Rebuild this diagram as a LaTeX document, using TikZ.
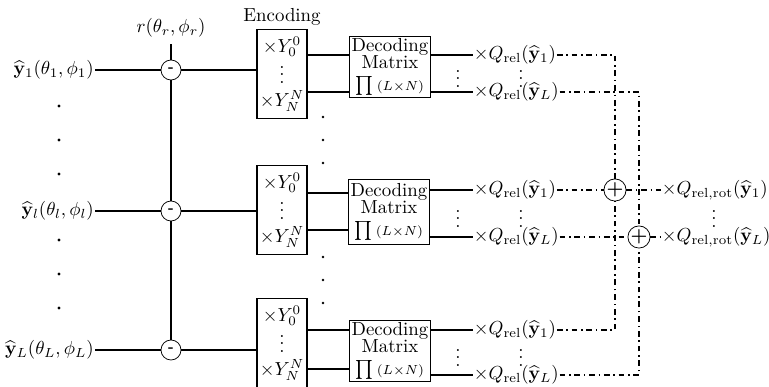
\documentclass[tikz,border=0pt]{standalone}
\usepackage{amsmath,amsfonts,amssymb}
\usepackage{tikz}
\usetikzlibrary{positioning}

\tikzset{
  encbox/.style={draw,thick,minimum width=26.5pt,minimum height=47pt,align=center,inner sep=0.5pt},
  decbox/.style={draw,thick,minimum width=43pt,minimum height=32.3pt,align=center,inner sep=0.3pt},
  minusnode/.style={draw,circle,minimum size=10.6pt,inner sep=0pt,font=\bfseries\scriptsize},
  plusnode/.style={draw,circle,minimum size=10.6pt,inner sep=0pt,font=\bfseries},
  qlab/.style={anchor=west,inner sep=0.3pt},
  dd/.style={thick,dashdotted}
}

\begin{document}
\begin{tikzpicture}[x=0.53pt,y=-0.53pt]
\useasboundingbox (0,0) rectangle (769,387);
% inputs and reference
\node[anchor=east,inner sep=0.5pt] (y1) at (95,70) {$\widehat{\mathbf{y}}_1(\theta_1,\phi_1)$};
\node[anchor=east,inner sep=0.5pt] (yl) at (95,211) {$\widehat{\mathbf{y}}_l(\theta_l,\phi_l)$};
\node[anchor=east,inner sep=0.5pt] (yL) at (95,350) {$\widehat{\mathbf{y}}_L(\theta_L,\phi_L)$};
\node (rlab) at (171,28) {$r(\theta_r,\phi_r)$};
\node[minusnode] (m1) at (171,70) {-};
\node[minusnode] (m2) at (171,211) {-};
\node[minusnode] (m3) at (171,350) {-};
\foreach \y in {106,140,174,240,274,308} \fill (59,\y) circle (0.8pt);
% encoding
\node (enctitle) at (282,17) {Encoding};
\node[encbox] (enc1) at (282,74) {$\times Y_0^0$\\[-2pt]$\vdots$\\$\times Y_N^N$};
\node[encbox] (enc2) at (282,210) {$\times Y_0^0$\\[-2pt]$\vdots$\\$\times Y_N^N$};
\node[encbox] (enc3) at (282,343) {$\times Y_0^0$\\[-2pt]$\vdots$\\$\times Y_N^N$};
\foreach \y in {117,140,163,257,280,303} \fill (323,\y) circle (0.7pt);
% decoding
\node[decbox] (dec1) at (390,67) {Decoding\\[-3pt]Matrix\\$\prod{\scriptstyle(L\times N)}$};
\node[decbox,minimum height=34.5pt] (dec2) at (389,212) {Decoding\\[-3pt]Matrix\\$\prod{\scriptstyle(L\times N)}$};
\node[decbox] (dec3) at (390,351) {Decoding\\[-3pt]Matrix\\$\prod{\scriptstyle(L\times N)}$};
\node (dv1) at (458,73) {$\vdots$};
\node (dv2) at (458,213) {$\vdots$};
\node (dv3) at (458,352) {$\vdots$};
% outputs
\node[qlab] (q11) at (473,55) {$\times Q_{\mathrm{rel}}(\widehat{\mathbf{y}}_1)$};
\node[qlab] (q1L) at (473,92) {$\times Q_{\mathrm{rel}}(\widehat{\mathbf{y}}_L)$};
\node[qlab] (q21) at (473,190) {$\times Q_{\mathrm{rel}}(\widehat{\mathbf{y}}_1)$};
\node[qlab] (q2L) at (473,237) {$\times Q_{\mathrm{rel}}(\widehat{\mathbf{y}}_L)$};
\node[qlab] (q31) at (473,330) {$\times Q_{\mathrm{rel}}(\widehat{\mathbf{y}}_1)$};
\node[qlab] (q3L) at (473,375) {$\times Q_{\mathrm{rel}}(\widehat{\mathbf{y}}_L)$};
\node (qv1) at (521,73) {$\vdots$};
\node (qv2) at (521,213) {$\vdots$};
\node (qv3) at (521,352) {$\vdots$};
% sums
\node[plusnode] (p1) at (615,190) {+};
\node[plusnode] (p2) at (639,237) {+};
\node[qlab] (rot1) at (661,190) {$\times Q_{\mathrm{rel,rot}}(\widehat{\mathbf{y}}_1)$};
\node[qlab] (rotL) at (661,237) {$\times Q_{\mathrm{rel,rot}}(\widehat{\mathbf{y}}_L)$};
\node (rv) at (714,213) {$\vdots$};

\draw[thick] (rlab.south) -- (m1.north);
\draw[thick] (m1.south) -- (m2.north);
\draw[thick] (m2.south) -- (m3.north);
\draw[thick] (y1.east) -- (m1.west);
\draw[thick] (yl.east) -- (m2.west);
\draw[thick] (yL.east) -- (m3.west);
\draw[thick] (m1.east) -- (m1.east -| enc1.west);
\draw[thick] (m2.east) -- (m2.east -| enc2.west);
\draw[thick] (m3.east) -- (m3.east -| enc3.west);
\draw[thick] (enc1.east |- q11.west) -- (dec1.west |- q11.west);
\draw[thick] (enc1.east |- q1L.west) -- (dec1.west |- q1L.west);
\draw[thick] (enc2.east |- 0,193) -- (dec2.west |- 0,193);
\draw[thick] (enc2.east |- 0,230) -- (dec2.west |- 0,230);
\draw[thick] (enc3.east |- q31.west) -- (dec3.west |- q31.west);
\draw[thick] (enc3.east |- 0,369) -- (dec3.west |- 0,369);
\draw[thick] (dec1.east |- q11.west) -- (q11.west);
\draw[thick] (dec1.east |- q1L.west) -- (q1L.west);
\draw[thick] (dec2.east |- q21.west) -- (q21.west);
\draw[thick] (dec2.east |- q2L.west) -- (q2L.west);
\draw[thick] (dec3.east |- q31.west) -- (q31.west);
\draw[thick] (dec3.east |- q3L.west) -- (q3L.west);
\draw[dd] (q11.east) -| (p1.north);
\draw[dd] (q1L.east) -| (p2.north);
\draw[dd] (q21.east) -- (p1.west);
\draw[dd] (q2L.east) -- (p2.west);
\draw[dd] (q31.east) -| (p1.south);
\draw[dd] (q3L.east) -| (p2.south);
\draw[dd] (p1.east) -- (rot1.west);
\draw[dd] (p2.east) -- (rotL.west);
\end{tikzpicture}
\end{document}
